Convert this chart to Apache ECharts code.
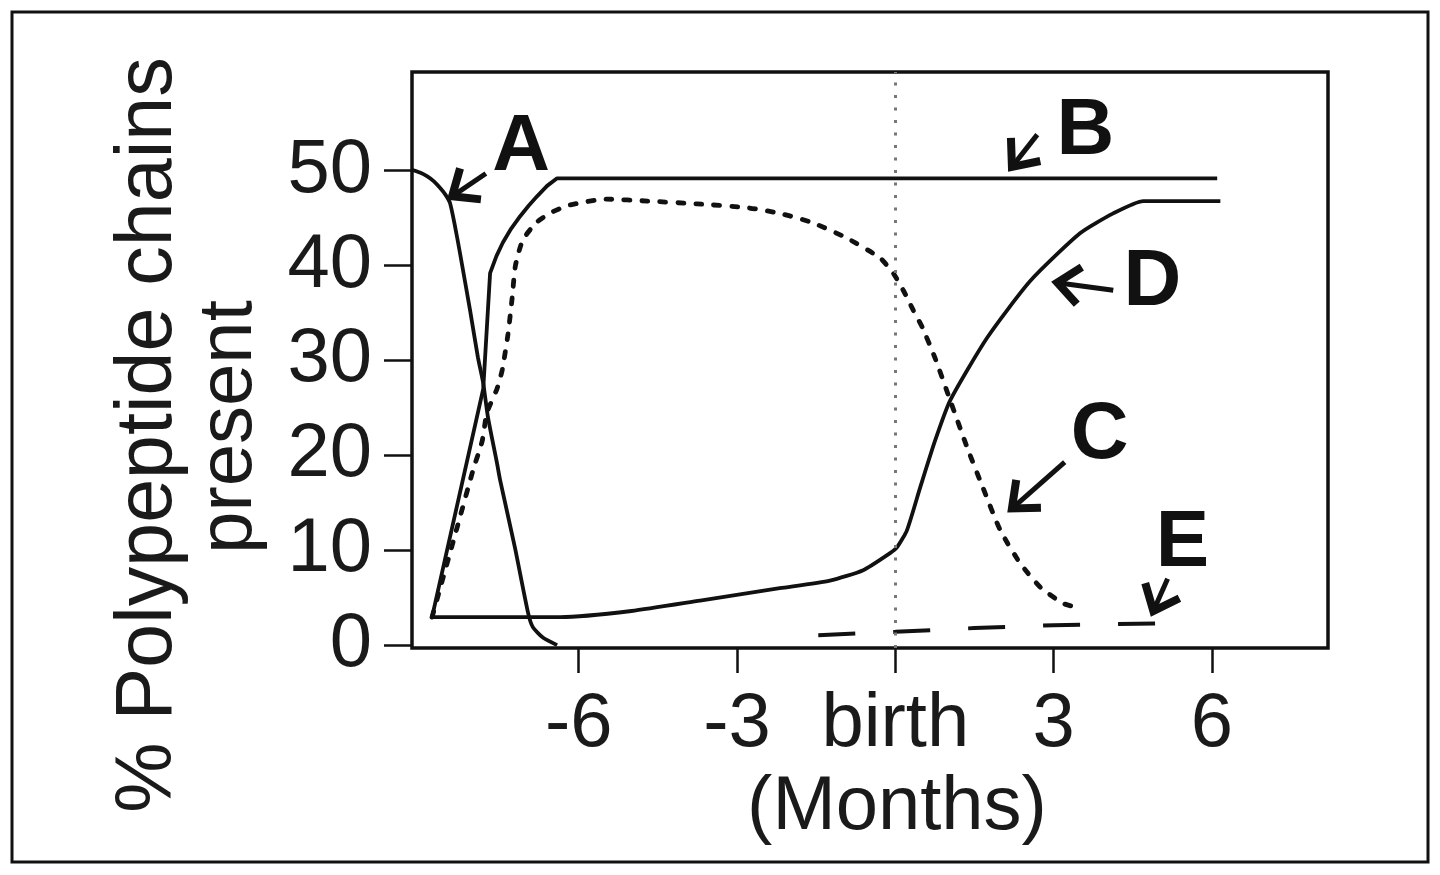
<!DOCTYPE html>
<html lang="en">
<head>
<meta charset="UTF-8">
<title>Polypeptide chains</title>
<style>
  html, body { margin: 0; padding: 0; background: #fff; }
  #chart { width: 1440px; height: 875px; }
</style>
</head>
<body>
<div id="chart"></div>
<script src="https://cdn.jsdelivr.net/npm/echarts@6/dist/echarts.min.js"></script>
<script>
    // months relative to birth  /  % of polypeptide chains present
    var aMonths = [-9.16, -9.01, -8.87, -8.75, -8.63, -8.53, -8.44, -8.35, -8.25, -8.06, -7.91, -7.81, -7.72, -7.55, -7.49, -7.21, -6.96, -6.87, -6.68, -6.41];
    var aValues = [50.1, 49.8, 49.4, 48.9, 48.2, 47.5, 46.6, 44.3, 41.3, 35.3, 30.3, 27.6, 24.0, 19.2, 17.4, 10.3, 3.4, 1.9, 0.8, 0.0];

    var bMonths = [-8.78, -7.81, -7.68, -7.56, -7.44, -7.28, -7.11, -6.95, -6.79, -6.60, -6.41, 6.10];
    var bValues = [2.95, 27.0, 39.2, 41.0, 42.4, 43.9, 45.2, 46.3, 47.3, 48.4, 49.2, 49.2];

    var cMonths = [-8.78, -8.3, -8.0, -7.83, -7.74, -7.55, -7.45, -7.34, -7.26, -7.2, -7.06, -6.79, -6.48, -6.16, -5.47, -4.70, -3.76, -2.81, -2.19, -1.56, -0.92, -0.29, -0.04, 0.15, 0.34, 0.51, 0.75, 1.04, 1.35, 1.66, 1.99, 2.37, 2.75, 3.18, 3.50];
    var cValues = [2.95, 12.5, 18.5, 21.5, 24.5, 27.0, 29.0, 32.8, 36.7, 40.0, 42.7, 44.6, 45.7, 46.4, 47.0, 46.8, 46.5, 46.1, 45.5, 44.5, 42.9, 40.8, 39.2, 37.4, 35.3, 33.5, 30.3, 25.8, 21.0, 16.6, 12.1, 8.6, 6.1, 4.4, 3.9];

    var dMonths = [-8.78, -6.35, -5.0, -3.70, -2.19, -1.24, -0.61, -0.10, 0.03, 0.22, 0.47, 0.75, 1.04, 1.74, 2.56, 3.50, 4.13, 4.70, 6.16];
    var dValues = [2.95, 2.95, 3.6, 4.7, 6.0, 6.8, 7.9, 9.7, 10.3, 12.1, 16.6, 21.5, 25.8, 32.4, 38.4, 43.4, 45.5, 46.8, 46.8];

    var eMonths = [-1.46, 0, 1.5, 3.0, 5.02];
    var eValues = [1.05, 1.4, 1.8, 2.1, 2.3];

    var xTicks = [-6, -3, 0, 3, 6];
    var yTicks = [0, 10, 20, 30, 40, 50];

    // curve letters and their arrows (tail -> tip), in data units
    var letters = ['A', 'B', 'C', 'D', 'E'];
    var letterAt = [[-7.09, 52.4], [3.6, 54.1], [3.87, 22.0], [4.87, 38.2], [5.44, 10.7]];
    var arrowTail = [[-7.76, 49.7], [2.69, 53.8], [3.21, 19.3], [4.13, 37.4], [5.16, 7.0]];
    var arrowTip = [[-8.40, 47.3], [2.21, 50.4], [2.21, 14.4], [3.07, 38.2], [4.89, 3.6]];

    var font = '"Liberation Sans", Arial, Helvetica, sans-serif';
    var ink = '#111';

    var pairs = function (xs, ys) {
        return xs.map(function (x, i) {
            return [x, ys[i]];
        });
    };

    var chart = echarts.init(document.getElementById('chart'));

    var solid = {color: ink, width: 3.8};

    chart.setOption({
        animation: false,
        backgroundColor: '#fff',
        grid: {
            left: 412,
            top: 72,
            width: 916,
            height: 576,
            show: true,
            borderColor: ink,
            borderWidth: 3.5
        },
        xAxis: {
            type: 'value',
            min: -9.16,
            max: 8.2,
            axisLine: {show: false, onZero: false},
            splitLine: {show: false},
            axisTick: {
                show: true,
                customValues: xTicks,
                length: 25,
                lineStyle: {color: ink, width: 2.5}
            },
            axisLabel: {
                customValues: xTicks,
                margin: 39,
                fontSize: 76,
                fontFamily: font,
                color: '#1a1a1a',
                formatter: function (v) {
                    return v === 0 ? 'birth' : String(v);
                }
            }
        },
        yAxis: {
            type: 'value',
            min: -0.3,
            max: 60.4,
            axisLine: {show: false, onZero: false},
            splitLine: {show: false},
            axisTick: {
                show: true,
                customValues: yTicks,
                length: 28,
                lineStyle: {color: ink, width: 2.5}
            },
            axisLabel: {
                customValues: yTicks,
                margin: 40,
                fontSize: 76,
                fontFamily: font,
                color: '#1a1a1a'
            }
        },
        series: [
            {
                name: 'A',
                type: 'line',
                symbol: 'none',
                silent: true,
                smooth: 0.2,
                lineStyle: solid,
                data: pairs(aMonths, aValues)
            },
            {
                name: 'B',
                type: 'line',
                symbol: 'none',
                silent: true,
                lineStyle: solid,
                data: pairs(bMonths, bValues),
                markLine: {
                    silent: true,
                    symbol: 'none',
                    label: {show: false},
                    lineStyle: {color: '#777', width: 3, type: [3, 9.5]},
                    data: [{xAxis: 0}]
                }
            },
            {
                name: 'C',
                type: 'line',
                symbol: 'none',
                silent: true,
                smooth: 0.2,
                lineStyle: {color: ink, width: 4.8, type: [6, 12], cap: 'round'},
                data: pairs(cMonths, cValues)
            },
            {
                name: 'D',
                type: 'line',
                symbol: 'none',
                silent: true,
                smooth: 0.2,
                lineStyle: solid,
                data: pairs(dMonths, dValues)
            },
            {
                name: 'E',
                type: 'line',
                symbol: 'none',
                silent: true,
                lineStyle: {color: ink, width: 4, type: [37, 38]},
                data: pairs(eMonths, eValues)
            }
        ]
    });

    var toPx = function (p) {
        return chart.convertToPixel({gridIndex: 0}, p);
    };

    var graphics = [
        {
            type: 'rect',
            shape: {x: 12, y: 12, width: 1416, height: 850},
            style: {fill: 'none', stroke: ink, lineWidth: 3}
        },
        {
            type: 'text',
            x: 149, y: 435,
            rotation: Math.PI / 2,
            style: {
                text: '% Polypeptide chains', fontSize: 79, fontFamily: font, fill: '#1a1a1a',
                align: 'center', verticalAlign: 'middle', textAlign: 'center', textVerticalAlign: 'middle'
            }
        },
        {
            type: 'text',
            x: 230, y: 427,
            rotation: Math.PI / 2,
            style: {
                text: 'present', fontSize: 76, fontFamily: font, fill: '#1a1a1a',
                align: 'center', verticalAlign: 'middle', textAlign: 'center', textVerticalAlign: 'middle'
            }
        },
        {
            type: 'text',
            x: 897, y: 808,
            style: {
                text: '(Months)', fontSize: 76, fontFamily: font, fill: '#1a1a1a',
                align: 'center', verticalAlign: 'middle', textAlign: 'center', textVerticalAlign: 'middle'
            }
        }
    ];

    letters.forEach(function (name, i) {
        var c = toPx(letterAt[i]);
        graphics.push({
            type: 'text',
            x: c[0], y: c[1],
            style: {
                text: name, fontSize: 80, fontWeight: 'bold', fontFamily: font, fill: ink,
                align: 'center', verticalAlign: 'middle', textAlign: 'center', textVerticalAlign: 'middle'
            }
        });

        var t0 = toPx(arrowTail[i]);
        var t1 = toPx(arrowTip[i]);
        var dx = t1[0] - t0[0], dy = t1[1] - t0[1];
        var len = Math.sqrt(dx * dx + dy * dy);
        var ux = dx / len, uy = dy / len;
        var arm = function (ang) {
            var ca = Math.cos(ang), sa = Math.sin(ang);
            var rx = -ux * ca + uy * sa, ry = -ux * sa - uy * ca;
            return [t1[0] + rx * 29, t1[1] + ry * 29];
        };
        graphics.push({
            type: 'line',
            shape: {x1: t0[0], y1: t0[1], x2: t1[0], y2: t1[1]},
            style: {stroke: ink, lineWidth: 5}
        });
        graphics.push({
            type: 'polyline',
            shape: {points: [arm(0.7), t1, arm(-0.7)]},
            style: {stroke: ink, fill: 'none', lineWidth: 8, lineJoin: 'miter'}
        });
    });

    chart.setOption({graphic: graphics});
</script>
</body>
</html>
